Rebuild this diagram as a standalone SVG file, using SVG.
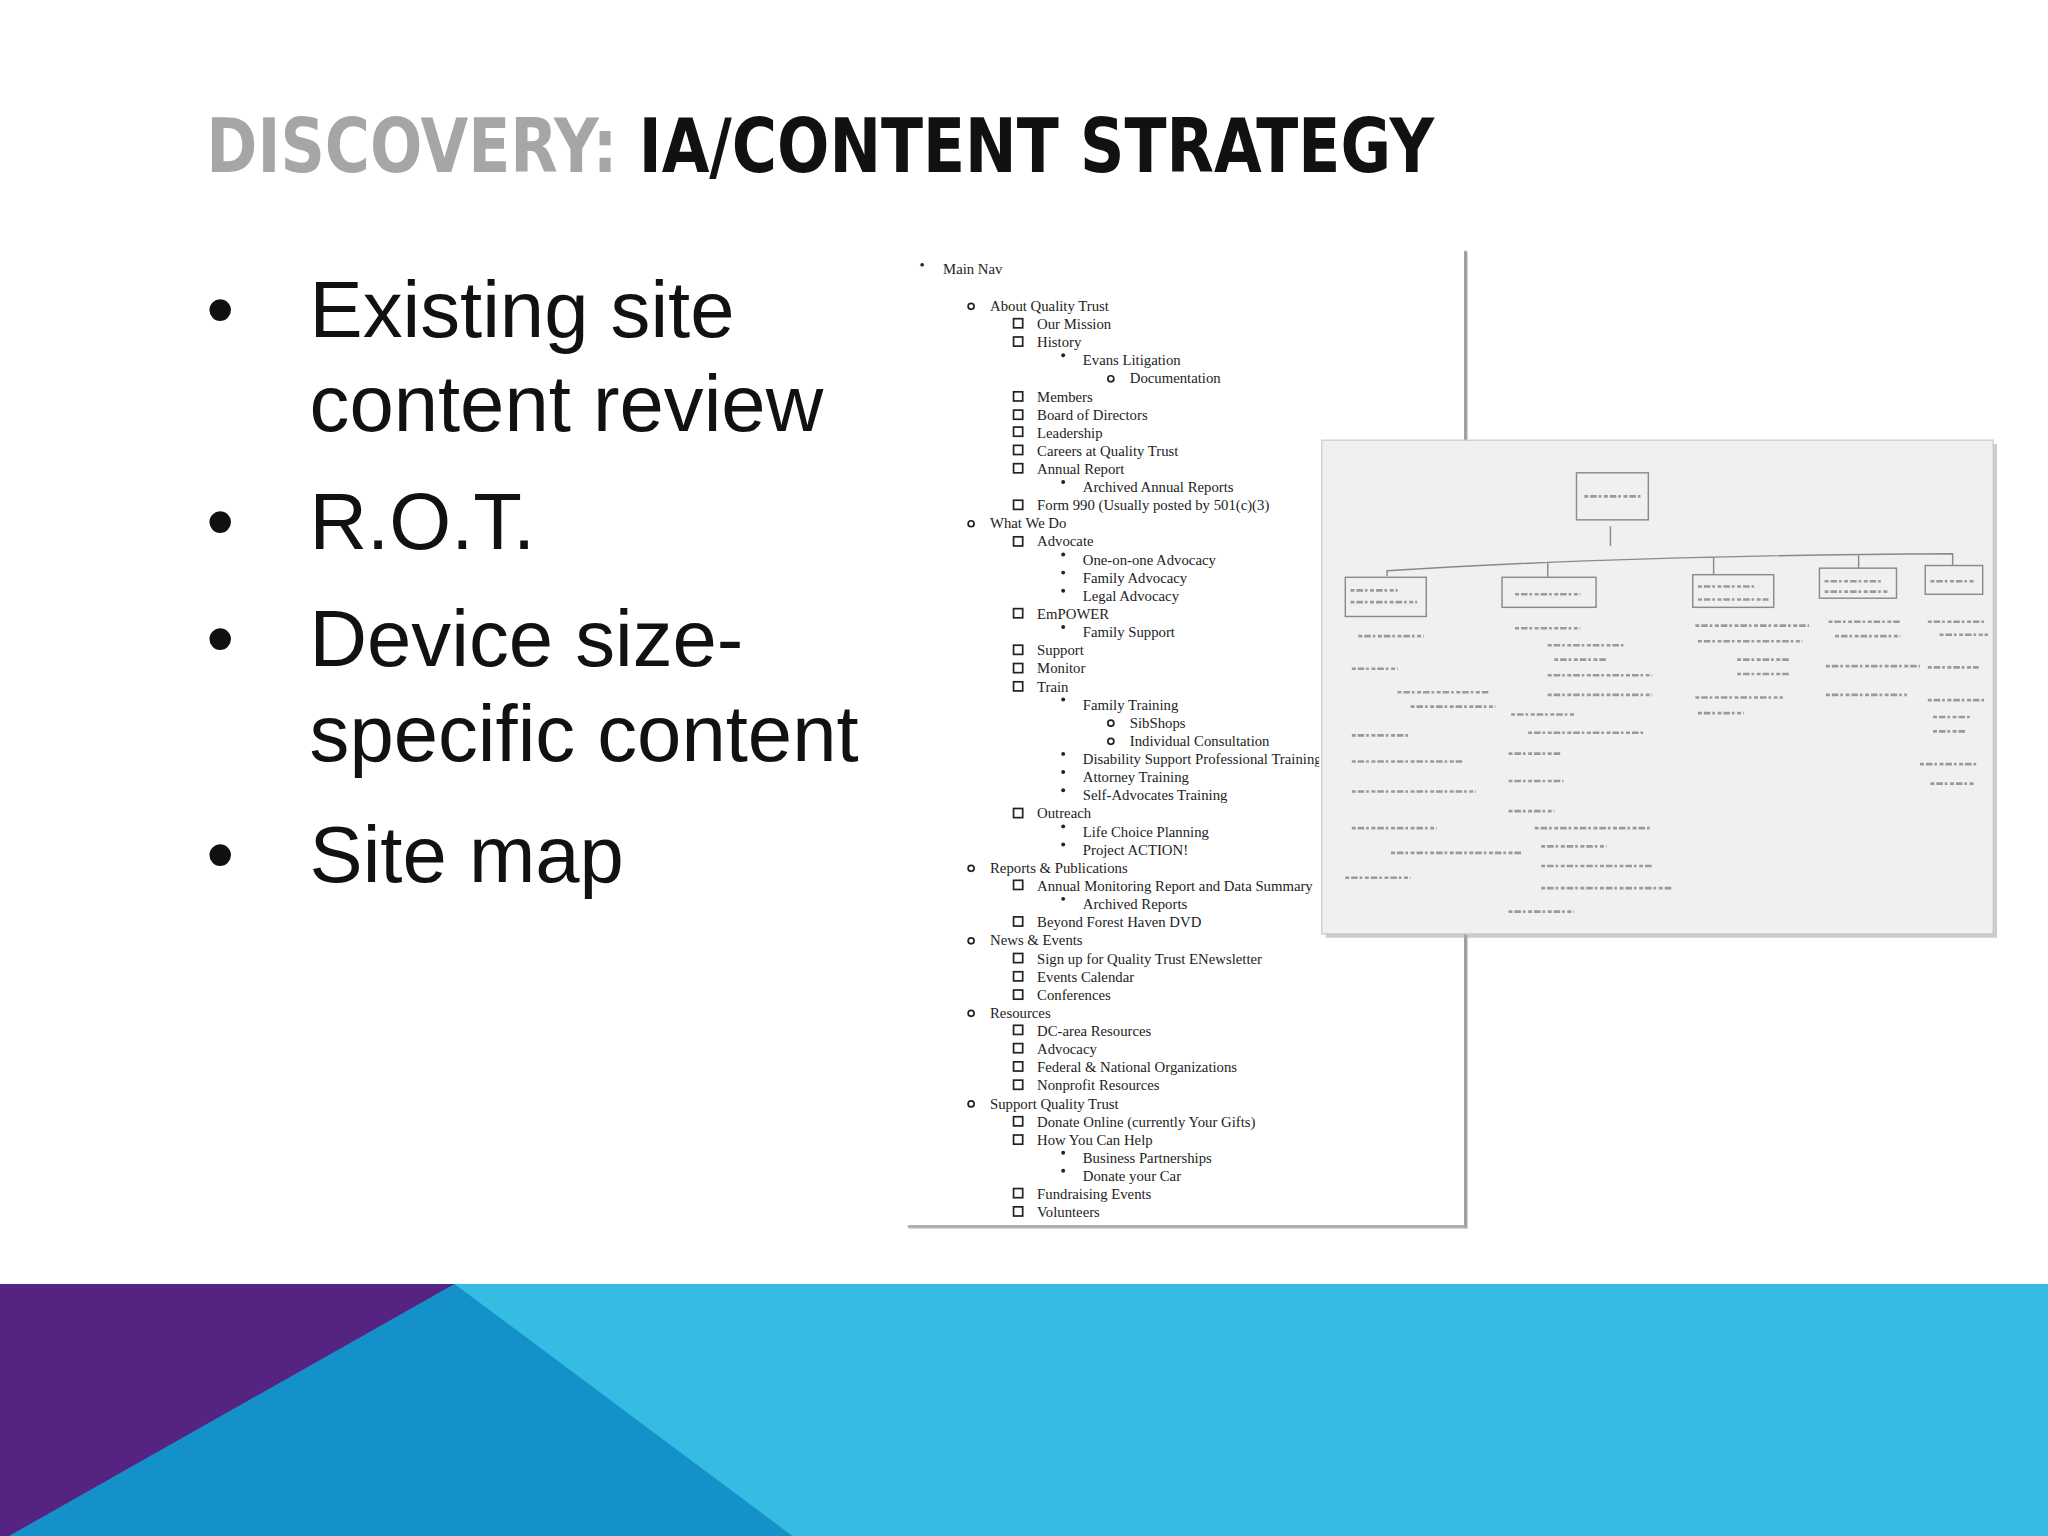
<svg xmlns="http://www.w3.org/2000/svg" width="2048" height="1536" viewBox="0 0 2048 1536">
<style>
.t{font-family:"Liberation Serif","Times New Roman",serif;font-size:11.3px;fill:#222}
.b{font-family:"Liberation Sans",Arial,sans-serif;font-size:61px;fill:#111}
.sk{fill:none;stroke:#8a8a8a;stroke-width:1.1}
.sc{fill:none;stroke:#9a9a9a;stroke-width:2;stroke-dasharray:3 1.5 5 1.5 2 2}
.sq{fill:none;stroke:#222;stroke-width:1.3}
</style>
<defs><clipPath id="dc"><rect x="690" y="185" width="320" height="760"/><rect x="690" y="185" width="440" height="150"/><rect x="690" y="716" width="440" height="230"/></clipPath></defs>
<rect width="2048" height="1536" fill="#fff"/>
<g transform="scale(1.30612)">
<g id="title"><text x="158" y="132" font-family="'DejaVu Sans Condensed','DejaVu Sans',sans-serif" font-weight="bold" font-size="57" textLength="940" lengthAdjust="spacingAndGlyphs"><tspan fill="#A6A6A6">DISCOVERY: </tspan><tspan fill="#111">IA/CONTENT STRATEGY</tspan></text></g>
<g id="bullets">
<text class="b" x="158" y="258">•</text><text class="b" x="237" y="258">Existing site</text>
<text class="b" x="237" y="330">content review</text>
<text class="b" x="158" y="420">•</text><text class="b" x="237" y="420">R.O.T.</text>
<text class="b" x="158" y="510">•</text><text class="b" x="237" y="510">Device size-</text>
<text class="b" x="237" y="583">specific content</text>
<text class="b" x="158" y="675">•</text><text class="b" x="237" y="675">Site map</text>
</g>
<g id="document">
<rect x="696" y="193" width="428" height="748" fill="#bbb" opacity="0.6"/>
<rect x="693" y="190" width="428" height="748" fill="#fff"/>
<line x1="1122" y1="192" x2="1122" y2="940" stroke="#999" stroke-width="2"/>
<line x1="695" y1="939" x2="1122" y2="939" stroke="#aaa" stroke-width="2"/>
<g clip-path="url(#dc)">
<text class="t" x="704" y="207">•</text><text class="t" x="722" y="210">Main Nav</text>
<g id="list">
<text class="t" x="758" y="238.0">About Quality Trust</text>
<text class="t" x="794" y="251.9">Our Mission</text>
<text class="t" x="794" y="265.8">History</text>
<text class="t" x="829" y="279.6">Evans Litigation</text>
<text class="t" x="865" y="293.5">Documentation</text>
<text class="t" x="794" y="307.4">Members</text>
<text class="t" x="794" y="321.3">Board of Directors</text>
<text class="t" x="794" y="335.2">Leadership</text>
<text class="t" x="794" y="349.0">Careers at Quality Trust</text>
<text class="t" x="794" y="362.9">Annual Report</text>
<text class="t" x="829" y="376.8">Archived Annual Reports</text>
<text class="t" x="794" y="390.7">Form 990 (Usually posted by 501(c)(3)</text>
<text class="t" x="758" y="404.6">What We Do</text>
<text class="t" x="794" y="418.4">Advocate</text>
<text class="t" x="829" y="432.3">One-on-one Advocacy</text>
<text class="t" x="829" y="446.2">Family Advocacy</text>
<text class="t" x="829" y="460.1">Legal Advocacy</text>
<text class="t" x="794" y="474.0">EmPOWER</text>
<text class="t" x="829" y="487.8">Family Support</text>
<text class="t" x="794" y="501.7">Support</text>
<text class="t" x="794" y="515.6">Monitor</text>
<text class="t" x="794" y="529.5">Train</text>
<text class="t" x="829" y="543.4">Family Training</text>
<text class="t" x="865" y="557.2">SibShops</text>
<text class="t" x="865" y="571.1">Individual Consultation</text>
<text class="t" x="829" y="585.0">Disability Support Professional Training</text>
<text class="t" x="829" y="598.9">Attorney Training</text>
<text class="t" x="829" y="612.8">Self-Advocates Training</text>
<text class="t" x="794" y="626.6">Outreach</text>
<text class="t" x="829" y="640.5">Life Choice Planning</text>
<text class="t" x="829" y="654.4">Project ACTION!</text>
<text class="t" x="758" y="668.3">Reports &amp; Publications</text>
<text class="t" x="794" y="682.2">Annual Monitoring Report and Data Summary</text>
<text class="t" x="829" y="696.0">Archived Reports</text>
<text class="t" x="794" y="709.9">Beyond Forest Haven DVD</text>
<text class="t" x="758" y="723.8">News &amp; Events</text>
<text class="t" x="794" y="737.7">Sign up for Quality Trust ENewsletter</text>
<text class="t" x="794" y="751.6">Events Calendar</text>
<text class="t" x="794" y="765.4">Conferences</text>
<text class="t" x="758" y="779.3">Resources</text>
<text class="t" x="794" y="793.2">DC-area Resources</text>
<text class="t" x="794" y="807.1">Advocacy</text>
<text class="t" x="794" y="821.0">Federal &amp; National Organizations</text>
<text class="t" x="794" y="834.8">Nonprofit Resources</text>
<text class="t" x="758" y="848.7">Support Quality Trust</text>
<text class="t" x="794" y="862.6">Donate Online (currently Your Gifts)</text>
<text class="t" x="794" y="876.5">How You Can Help</text>
<text class="t" x="829" y="890.4">Business Partnerships</text>
<text class="t" x="829" y="904.2">Donate your Car</text>
<text class="t" x="794" y="918.1">Fundraising Events</text>
<text class="t" x="794" y="932.0">Volunteers</text>
</g>
</g>
<g id="markers" fill="none" stroke="#222" stroke-width="1.3">
<circle cx="743.5" cy="234.5" r="2.3"/><circle cx="850.5" cy="290" r="2.3"/><circle cx="743.5" cy="401" r="2.3"/>
<circle cx="850.5" cy="553.7" r="2.3"/><circle cx="850.5" cy="567.6" r="2.3"/><circle cx="743.5" cy="664.8" r="2.3"/>
<circle cx="743.5" cy="720.3" r="2.3"/><circle cx="743.5" cy="775.8" r="2.3"/><circle cx="743.5" cy="845.2" r="2.3"/>
</g>
<g id="squares" class="sq">
<rect x="776" y="244" width="7" height="7"/><rect x="776" y="258" width="7" height="7"/><rect x="776" y="300" width="7" height="7"/>
<rect x="776" y="314" width="7" height="7"/><rect x="776" y="327" width="7" height="7"/><rect x="776" y="341" width="7" height="7"/>
<rect x="776" y="355" width="7" height="7"/><rect x="776" y="383" width="7" height="7"/><rect x="776" y="411" width="7" height="7"/>
<rect x="776" y="466" width="7" height="7"/><rect x="776" y="494" width="7" height="7"/><rect x="776" y="508" width="7" height="7"/>
<rect x="776" y="522" width="7" height="7"/><rect x="776" y="619" width="7" height="7"/><rect x="776" y="674" width="7" height="7"/>
<rect x="776" y="702" width="7" height="7"/><rect x="776" y="730" width="7" height="7"/><rect x="776" y="744" width="7" height="7"/>
<rect x="776" y="758" width="7" height="7"/><rect x="776" y="785" width="7" height="7"/><rect x="776" y="799" width="7" height="7"/>
<rect x="776" y="813" width="7" height="7"/><rect x="776" y="827" width="7" height="7"/><rect x="776" y="855" width="7" height="7"/>
<rect x="776" y="869" width="7" height="7"/><rect x="776" y="910" width="7" height="7"/><rect x="776" y="924" width="7" height="7"/>
</g>
<g id="dots" fill="#222">
<circle cx="814" cy="272" r="1.5"/><circle cx="814" cy="369" r="1.5"/><circle cx="814" cy="424.5" r="1.5"/>
<circle cx="814" cy="438.4" r="1.5"/><circle cx="814" cy="452.3" r="1.5"/><circle cx="814" cy="480" r="1.5"/>
<circle cx="814" cy="535.6" r="1.5"/><circle cx="814" cy="577.2" r="1.5"/><circle cx="814" cy="591.1" r="1.5"/>
<circle cx="814" cy="605" r="1.5"/><circle cx="814" cy="632.7" r="1.5"/><circle cx="814" cy="646.6" r="1.5"/>
<circle cx="814" cy="688.2" r="1.5"/><circle cx="814" cy="882.6" r="1.5"/><circle cx="814" cy="896.4" r="1.5"/>
</g>
</g>
<g id="photo">
<rect x="1015" y="340" width="514" height="378" fill="#aaa" opacity="0.6"/>
<rect x="1012" y="337" width="514" height="378" fill="#f1f0ef" stroke="#ccc"/>
<g id="sketch-nodes" class="sk">
<rect x="1207" y="362" width="55" height="36"/>
<rect x="1030" y="442" width="62" height="30"/>
<rect x="1150" y="442" width="72" height="23"/>
<rect x="1296" y="440" width="62" height="25"/>
<rect x="1393" y="435" width="59" height="23"/>
<rect x="1474" y="433" width="44" height="22"/>
</g>
<g id="connectors" class="sk">
<path d="M1233 403 V418 M1062 441 V437 Q1250 425 1495 424 V433 M1185 442 V430 M1312 440 V427 M1423 435 V425"/>
</g>
<g id="scribbles" class="sc">
<path d="M1213 380 H1256"/>
<path d="M1034 452 H1070 M1034 461 H1085 M1160 455 H1210 M1300 449 H1345 M1300 459 H1354 M1397 445 H1440 M1397 453 H1445 M1478 445 H1512"/>
<path d="M1040 487 H1090 M1035 512 H1070 M1070 530 H1140 M1080 541 H1145 M1035 563 H1080 M1035 583 H1120 M1035 606 H1130 M1035 634 H1100 M1065 653 H1165 M1030 672 H1080"/>
<path d="M1160 481 H1210 M1185 494 H1245 M1190 505 H1230 M1185 517 H1265 M1185 532 H1265 M1157 547 H1205 M1170 561 H1260 M1155 577 H1195 M1155 598 H1197 M1155 621 H1190 M1175 634 H1265 M1180 648 H1230 M1180 663 H1265 M1180 680 H1280 M1155 698 H1205"/>
<path d="M1298 479 H1385 M1300 491 H1380 M1330 505 H1370 M1330 516 H1370 M1298 534 H1365 M1300 546 H1335"/>
<path d="M1400 476 H1455 M1405 487 H1455 M1398 510 H1470 M1398 532 H1460"/>
<path d="M1476 476 H1520 M1485 486 H1522 M1476 511 H1515 M1476 536 H1520 M1480 549 H1510 M1480 560 H1505 M1470 585 H1515 M1478 600 H1512"/>
</g>
</g>
<g id="band">
<rect x="0" y="983" width="1568" height="200" fill="#35BCE3"/>
<polygon points="348,983 612,1180 0,1180" fill="#1591C9"/>
<polygon points="0,983 348,983 0,1180" fill="#552483"/>
</g>
</g>
</svg>
